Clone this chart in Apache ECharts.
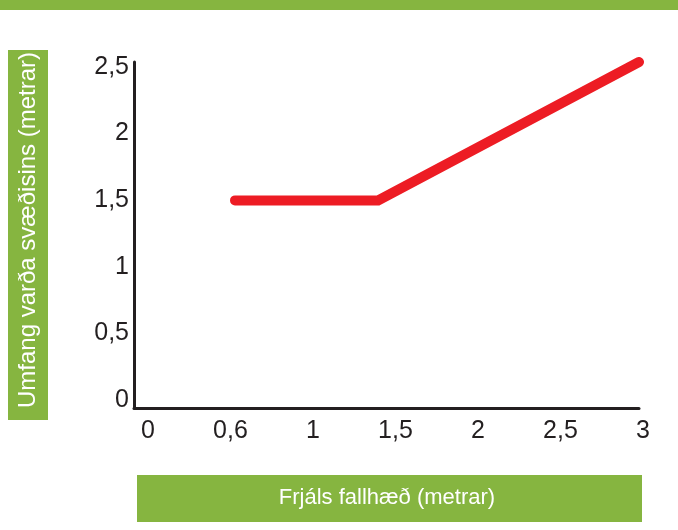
<!DOCTYPE html>
<html>
<head>
<meta charset="utf-8">
<script src="https://cdn.jsdelivr.net/npm/echarts@6/dist/echarts.min.js"></script>
<style>
  html, body { margin: 0; padding: 0; background: #fff; }
  #chart { width: 678px; height: 530px; }
</style>
</head>
<body>
<div id="chart"></div>
<script>
// gögn
var fallHeight = [0.6, 1.45, 3];
var zoneSize = [1.5, 1.5, 2.5];
var xTickLabels = ['0', '0,6', '1', '1,5', '2', '2,5', '3'];
var yTickLabels = ['0', '0,5', '1', '1,5', '2', '2,5'];
var xTitle = 'Frjáls fallhæð (metrar)';
var yTitle = 'Umfang varða svæðisins (metrar)';

var green = '#86b540';
var ink = '#231f20';
var font = 'Liberation Sans';

var points = fallHeight.map(function (x, i) { return [x, zoneSize[i]]; });

var chart = echarts.init(document.getElementById('chart'));
var option = {
    backgroundColor: '#ffffff',
    animation: false,
    grid: [
        // gagnasvæði
        {left: 134, right: 39, top: 62, bottom: 122},
        // merkingar á ásum
        {left: 148, right: 35, top: 67, bottom: 130}
    ],
    xAxis: [
        {
            type: 'value', gridIndex: 0, min: 0, max: 3,
            axisLine: {show: true, lineStyle: {color: ink, width: 3}},
            axisTick: {show: false},
            axisLabel: {show: false},
            splitLine: {show: false}
        },
        {
            type: 'category', gridIndex: 1, data: xTickLabels, boundaryGap: false,
            axisLine: {show: false},
            axisTick: {show: false},
            splitLine: {show: false},
            axisLabel: {color: ink, fontSize: 25, fontFamily: font, margin: 19, interval: 0}
        }
    ],
    yAxis: [
        {
            type: 'value', gridIndex: 0, min: 0, max: 2.5,
            axisLine: {show: true, lineStyle: {color: ink, width: 3}},
            axisTick: {show: false},
            axisLabel: {show: false},
            splitLine: {show: false}
        },
        {
            type: 'category', gridIndex: 1, data: yTickLabels, boundaryGap: false,
            axisLine: {show: false},
            axisTick: {show: false},
            splitLine: {show: false},
            axisLabel: {color: ink, fontSize: 25, fontFamily: font, margin: 19, interval: 0}
        }
    ],
    graphic: [
        {type: 'rect', shape: {x: 0, y: 0, width: 678, height: 10}, style: {fill: green}},
        {type: 'rect', shape: {x: 8, y: 50, width: 40, height: 370}, style: {fill: green}},
        {
            type: 'text', x: 28, y: 230, rotation: Math.PI / 2,
            style: {text: yTitle, fill: '#fff', fontSize: 24, fontFamily: font,
                    textAlign: 'center', textVerticalAlign: 'middle'}
        },
        {type: 'rect', shape: {x: 137, y: 475, width: 505, height: 47}, style: {fill: green}},
        {
            type: 'text', x: 387, y: 498,
            style: {text: xTitle, fill: '#fff', fontSize: 22, fontFamily: font,
                    textAlign: 'center', textVerticalAlign: 'middle'}
        }
    ],
    series: [{
        type: 'line',
        xAxisIndex: 0,
        yAxisIndex: 0,
        data: points,
        symbol: 'none',
        lineStyle: {color: '#ed1c24', width: 10, cap: 'round', join: 'miter'}
    }]
};
chart.setOption(option);
</script>
</body>
</html>
